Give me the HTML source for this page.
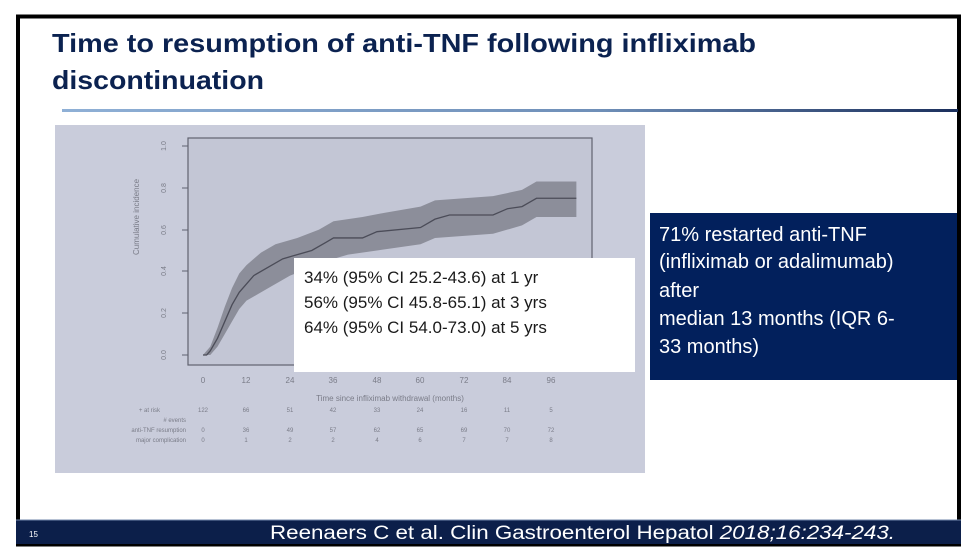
<!DOCTYPE html>
<html><head><meta charset="utf-8"><style>
html,body{margin:0;padding:0;background:#fff;}
svg{display:block;}
</style></head><body>
<svg width="973" height="558" viewBox="0 0 973 558" xmlns="http://www.w3.org/2000/svg" font-family="Liberation Sans, sans-serif">
<defs>
<linearGradient id="dl" x1="0" x2="1" y1="0" y2="0">
<stop offset="0" stop-color="#8fb0d6"/><stop offset="0.6" stop-color="#6f8fb8"/><stop offset="1" stop-color="#1b2f5c"/>
</linearGradient>
</defs>
<rect x="0" y="0" width="973" height="558" fill="#fff"/>
<rect x="18" y="16.5" width="941" height="528" fill="#fff" stroke="#000" stroke-width="4"/>
<text x="52" y="52" font-size="26" font-weight="bold" fill="#0b2250" textLength="704" lengthAdjust="spacingAndGlyphs">Time to resumption of anti-TNF following infliximab</text>
<text x="52" y="89" font-size="26" font-weight="bold" fill="#0b2250" textLength="212" lengthAdjust="spacingAndGlyphs">discontinuation</text>
<rect x="62" y="109" width="896" height="3" fill="url(#dl)"/>
<rect x="55" y="125" width="590" height="348" fill="#c9ccdb"/>
<rect x="188" y="138" width="404" height="227" fill="#c3c6d5" stroke="#606270" stroke-width="1.2"/>
<g transform="translate(203,355) scale(3.625,-209)">
<polygon fill="#8c8e9a" points="0,0 2,0.04 4,0.13 6,0.23 8,0.32 10,0.39 12,0.43 16,0.49 20,0.53 26,0.56 32,0.6 36,0.64 44,0.66 50,0.68 60,0.71 64,0.74 80,0.76 88,0.79 92,0.83 103,0.83 103,0.66 92,0.66 88,0.62 80,0.58 64,0.56 60,0.53 48,0.5 40,0.48 36,0.46 30,0.42 24,0.38 18,0.32 14,0.28 12,0.26 10,0.22 8,0.16 6,0.1 4,0.04 2,0 0,0"/>
<polyline fill="none" stroke="#4b4c58" stroke-width="1.3" vector-effect="non-scaling-stroke" points="0,0 1,0 2,0.02 4,0.08 6,0.16 8,0.24 10,0.3 12,0.34 14,0.38 18,0.42 22,0.46 26,0.48 30,0.5 34,0.54 36,0.56 44,0.56 48,0.59 60,0.61 64,0.65 68,0.67 80,0.67 84,0.7 88,0.71 90,0.73 92,0.75 103,0.75"/>
</g>
<g fill="#7a7c88" font-size="7">
<text transform="translate(166,355) rotate(-90)" text-anchor="middle">0.0</text>
<text transform="translate(166,313) rotate(-90)" text-anchor="middle">0.2</text>
<text transform="translate(166,271) rotate(-90)" text-anchor="middle">0.4</text>
<text transform="translate(166,230) rotate(-90)" text-anchor="middle">0.6</text>
<text transform="translate(166,188) rotate(-90)" text-anchor="middle">0.8</text>
<text transform="translate(166,146) rotate(-90)" text-anchor="middle">1.0</text>
<text transform="translate(139,217) rotate(-90)" text-anchor="middle" font-size="8">Cumulative incidence</text>
</g>
<g stroke="#606270" stroke-width="1">
<line x1="182" y1="355" x2="188" y2="355"/><line x1="182" y1="313" x2="188" y2="313"/><line x1="182" y1="271" x2="188" y2="271"/><line x1="182" y1="230" x2="188" y2="230"/><line x1="182" y1="188" x2="188" y2="188"/><line x1="182" y1="146" x2="188" y2="146"/>
</g>
<g fill="#7a7c88" font-size="8" text-anchor="middle">
<text x="203" y="383">0</text><text x="246" y="383">12</text><text x="290" y="383">24</text><text x="333" y="383">36</text><text x="377" y="383">48</text><text x="420" y="383">60</text><text x="464" y="383">72</text><text x="507" y="383">84</text><text x="551" y="383">96</text>
<text x="390" y="401">Time since infliximab withdrawal (months)</text>
</g>
<g fill="#7a7c88" font-size="6" text-anchor="middle">
<text x="160" y="412" text-anchor="end">+ at risk</text><text x="203" y="412">122</text><text x="246" y="412">66</text><text x="290" y="412">51</text><text x="333" y="412">42</text><text x="377" y="412">33</text><text x="420" y="412">24</text><text x="464" y="412">16</text><text x="507" y="412">11</text><text x="551" y="412">5</text>
<text x="186" y="422" text-anchor="end"># events</text>
<text x="186" y="432" text-anchor="end">anti-TNF resumption</text><text x="203" y="432">0</text><text x="246" y="432">36</text><text x="290" y="432">49</text><text x="333" y="432">57</text><text x="377" y="432">62</text><text x="420" y="432">65</text><text x="464" y="432">69</text><text x="507" y="432">70</text><text x="551" y="432">72</text>
<text x="186" y="442" text-anchor="end">major complication</text><text x="203" y="442">0</text><text x="246" y="442">1</text><text x="290" y="442">2</text><text x="333" y="442">2</text><text x="377" y="442">4</text><text x="420" y="442">6</text><text x="464" y="442">7</text><text x="507" y="442">7</text><text x="551" y="442">8</text>
</g>
<rect x="294" y="258" width="341" height="114" fill="#fff"/>
<g fill="#1a1a1a" font-size="17">
<text x="304" y="283">34% (95% CI 25.2-43.6) at 1 yr</text>
<text x="304" y="308">56% (95% CI 45.8-65.1) at 3 yrs</text>
<text x="304" y="333">64% (95% CI 54.0-73.0) at 5 yrs</text>
</g>
<rect x="650" y="213" width="307" height="167" fill="#02205c"/>
<g fill="#fff" font-size="20">
<text x="659" y="241">71% restarted anti-TNF</text>
<text x="659" y="268">(infliximab or adalimumab)</text>
<text x="659" y="297">after</text>
<text x="659" y="325">median 13 months (IQR 6-</text>
<text x="659" y="353">33 months)</text>
</g>
<rect x="16" y="520" width="945" height="24" fill="#0c1f4a"/>
<line x1="16" y1="520" x2="961" y2="520" stroke="#6f86aa" stroke-width="1"/>
<text x="29" y="537" font-size="8" fill="#fff">15</text>
<text x="270" y="539" font-size="19" fill="#fff" textLength="625" lengthAdjust="spacingAndGlyphs">Reenaers C et al.  Clin Gastroenterol Hepatol <tspan font-style="italic">2018;16:234-243.</tspan></text>
</svg>
</body></html>
